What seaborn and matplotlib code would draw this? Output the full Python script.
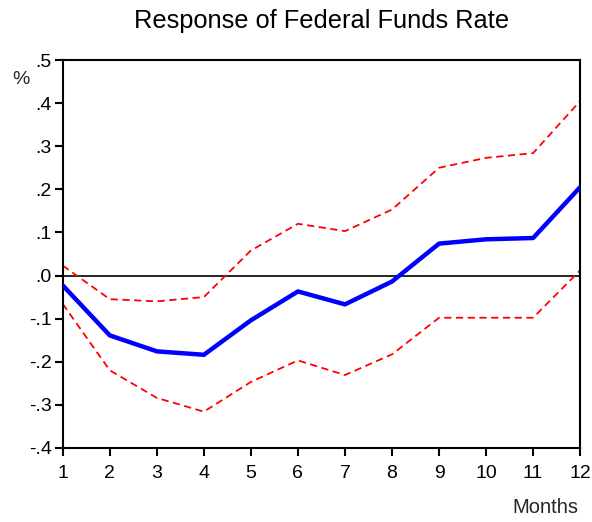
import pandas as pd
import matplotlib
matplotlib.use("Agg")
import matplotlib.pyplot as plt
import seaborn as sns

# Impulse response data
months = list(range(1, 13))
response = [-0.023, -0.139, -0.176, -0.184, -0.104, -0.037, -0.067, -0.014, 0.074, 0.084, 0.087, 0.205]
upper = [0.023, -0.055, -0.060, -0.050, 0.058, 0.120, 0.103, 0.153, 0.250, 0.273, 0.284, 0.405]
lower = [-0.066, -0.220, -0.284, -0.316, -0.247, -0.197, -0.231, -0.183, -0.098, -0.098, -0.098, 0.012]
y_ticks = [-0.4, -0.3, -0.2, -0.1, 0.0, 0.1, 0.2, 0.3, 0.4, 0.5]

df = pd.DataFrame({"Month": months, "Response": response, "Upper": upper, "Lower": lower})

sns.set_style("white")
plt.rcParams["font.family"] = ["Liberation Sans", "DejaVu Sans"]

fig = plt.figure(figsize=(5.92, 5.22), dpi=100)
ax = fig.add_axes([0.106, 0.142, 0.874, 0.743])

ax.axhline(0, color="black", linewidth=1.2, zorder=1)
sns.lineplot(data=df, x="Month", y="Upper", ax=ax, color="red", linewidth=1.3,
             linestyle=(0, (4, 2.5)), zorder=2)
sns.lineplot(data=df, x="Month", y="Lower", ax=ax, color="red", linewidth=1.3,
             linestyle=(0, (4, 2.5)), zorder=2)
sns.lineplot(data=df, x="Month", y="Response", ax=ax, color="#0000ff", linewidth=3.2,
             zorder=3)

ax.set_xlim(1, 12)
ax.set_ylim(-0.4, 0.5)
ax.set_xticks(months)
ax.set_yticks(y_ticks)
ax.set_yticklabels([f"{v:.1f}".replace("0.", ".") for v in y_ticks])
ax.tick_params(axis="both", direction="out", length=6, width=1.5, labelsize=14,
               colors="black", left=True, bottom=True, pad=2)
ax.tick_params(axis="x", pad=6)
for s in ax.spines.values():
    s.set_linewidth(1.5)
    s.set_color("black")

ax.set_xlabel("")
ax.set_ylabel("")
ax.set_title("Response of Federal Funds Rate", fontsize=18.3, pad=23, color="black")
fig.text(0.035, 0.847, "%", fontsize=14, ha="center", va="center")
fig.text(0.922, 0.027, "Months", fontsize=14.5, ha="center", va="center")

fig.savefig("out.png", dpi=100)
